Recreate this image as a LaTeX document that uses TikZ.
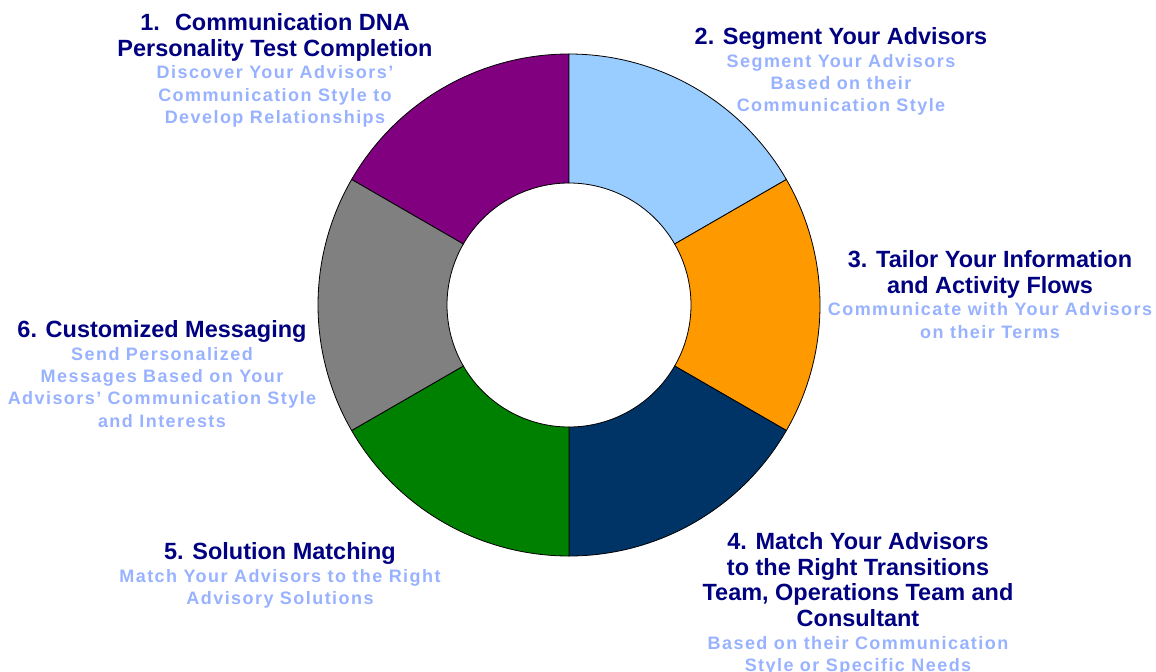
\documentclass[tikz,border=0pt]{standalone}
\usepackage{fontspec}
\setmainfont{Liberation Sans}
\newfontfamily\spacedfont[LetterSpace=8]{Liberation Sans}
\usetikzlibrary{positioning}
\definecolor{ringpurple}{HTML}{800080}
\definecolor{ringsky}{HTML}{99CCFF}
\definecolor{ringorange}{HTML}{FF9900}
\definecolor{ringnavy}{HTML}{003366}
\definecolor{ringgreen}{HTML}{008000}
\definecolor{ringgray}{HTML}{808080}
\definecolor{titleblue}{HTML}{000080}
\definecolor{noteblue}{HTML}{98B2FF}
\tikzset{
    steptitle/.style={font=\fontsize{17.6pt}{19.3pt}\selectfont\bfseries, text=titleblue, align=center, inner sep=0pt, text depth=0pt, anchor=north},
    stepnote/.style={font=\spacedfont\fontsize{13.5pt}{16.8pt}\selectfont\bfseries, text=noteblue, align=center, inner sep=0pt},
    ringpart/.style={draw=black, line width=0.6pt},
}

\begin{document}
\begin{tikzpicture}[x=0.75pt, y=-0.75pt, node distance=7pt]
  \useasboundingbox (0,0) rectangle (1156,671);

  % the ring (angles negative because y points down)
  \begin{scope}[shift={(569,305)}]
    \filldraw[ringpart, fill=ringpurple] (-90:251) arc[start angle=-90, end angle=-150, radius=251] -- (-150:122) arc[start angle=-150, end angle=-90, radius=122] -- cycle;
    \filldraw[ringpart, fill=ringsky] (-30:251) arc[start angle=-30, end angle=-90, radius=251] -- (-90:122) arc[start angle=-90, end angle=-30, radius=122] -- cycle;
    \filldraw[ringpart, fill=ringorange] (30:251) arc[start angle=30, end angle=-30, radius=251] -- (-30:122) arc[start angle=-30, end angle=30, radius=122] -- cycle;
    \filldraw[ringpart, fill=ringnavy] (90:251) arc[start angle=90, end angle=30, radius=251] -- (30:122) arc[start angle=30, end angle=90, radius=122] -- cycle;
    \filldraw[ringpart, fill=ringgreen] (150:251) arc[start angle=150, end angle=90, radius=251] -- (90:122) arc[start angle=90, end angle=150, radius=122] -- cycle;
    \filldraw[ringpart, fill=ringgray] (210:251) arc[start angle=210, end angle=150, radius=251] -- (150:122) arc[start angle=150, end angle=210, radius=122] -- cycle;
  \end{scope}

  % step labels
  \node[steptitle] (t1) at (275,13) {1.~ Communication DNA\\Personality Test Completion};
  \node[stepnote] (s1) [below=of t1] {Discover Your Advisors’\\Communication Style to\\Develop Relationships};

  \node[steptitle] (t2) at (841,27) {2. Segment Your Advisors};
  \node[stepnote] (s2) [below=of t2] {Segment Your Advisors\\Based on their\\Communication Style};

  \node[steptitle] (t3) at (990,250) {3. Tailor Your Information\\and Activity Flows};
  \node[stepnote] (s3) [below=of t3] {Communicate with Your Advisors\\on their Terms};

  \node[steptitle] (t4) at (858,532) {4. Match Your Advisors\\to the Right Transitions\\Team, Operations Team and\\Consultant};
  \node[stepnote] (s4) [below=of t4] {Based on their Communication\\Style or Specific Needs};

  \node[steptitle] (t5) at (280,542) {5. Solution Matching};
  \node[stepnote] (s5) [below=of t5] {Match Your Advisors to the Right\\Advisory Solutions};

  \node[steptitle] (t6) at (162,320) {6. Customized Messaging};
  \node[stepnote] (s6) [below=of t6] {Send Personalized\\Messages Based on Your\\Advisors’ Communication Style\\and Interests};
\end{tikzpicture}
\end{document}
